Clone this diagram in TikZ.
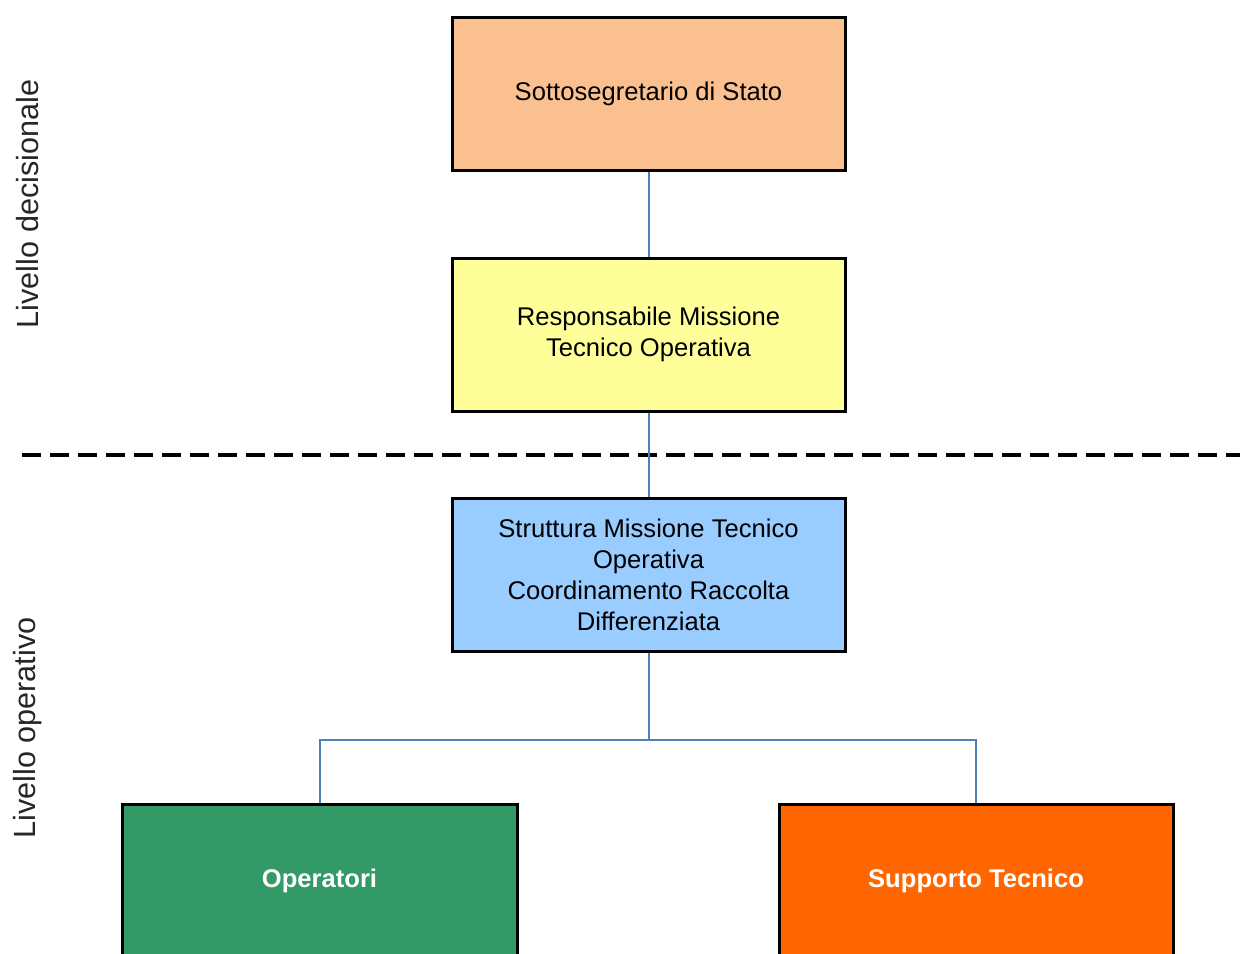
\documentclass[tikz,border=0pt]{standalone}
\usepackage{fontspec}
\setmainfont{Liberation Sans}
\usetikzlibrary{positioning,calc}

\definecolor{stato}{HTML}{FAC090}
\definecolor{missione}{HTML}{FFFF99}
\definecolor{struttura}{HTML}{99CCFF}
\definecolor{operatori}{HTML}{339966}
\definecolor{supporto}{HTML}{FF6600}
\definecolor{linea}{HTML}{4F81BD}

\begin{document}
\begin{tikzpicture}[x=0.5pt,y=-0.5pt,
  every node/.style={align=center,font=\fontsize{12.8}{15.5}\selectfont},
  box/.style={draw=black,line width=1.5pt,minimum width=196.5pt,minimum height=76.5pt,inner sep=2pt},
  link/.style={draw=linea,line width=1pt},
  level/.style={rotate=90,font=\fontsize{15.3}{18}\selectfont,text=black!85}]
\clip (0,0) rectangle (1242,953);
\node [box,fill=stato] (Sottosegretario) at (648.5,93.5) {Sottosegretario di Stato};
\node [box,fill=missione,below=42.5pt of Sottosegretario] (Responsabile) {Responsabile Missione\\Tecnico Operativa};
\node [box,fill=struttura,below=42pt of Responsabile] (Struttura) {Struttura Missione Tecnico\\Operativa\\Coordinamento Raccolta\\Differenziata};
\node [box,fill=operatori,minimum width=197.5pt,text=white,font=\fontsize{12.8}{15.5}\selectfont\bfseries] (Operatori) at (319.5,880.5) {Operatori};
\node [box,fill=supporto,minimum width=197pt,text=white,font=\fontsize{12.8}{15.5}\selectfont\bfseries] (Supporto) at (976,880.5) {Supporto Tecnico};
\node [level] (Decisionale) at (28,204) {Livello decisionale};
\node [level] (Operativo) at (28,728) {Livello operativo};
\coordinate (DashStart) at (22,455);
\coordinate (DashEnd) at (1240,455);
\draw [line width=2pt,dash pattern=on 9.5pt off 4.5pt] (DashStart) -- (DashEnd);
\draw [link] (Sottosegretario.south) -- (Responsabile.north);
\draw [link] (Responsabile.south) -- (Struttura.north);
\coordinate (Ramo) at ($(Struttura.south)+(0,87)$);
\draw [link] (Struttura.south) -- (Ramo) -| (Operatori.north);
\draw [link] (Ramo) -| (Supporto.north);
\end{tikzpicture}
\end{document}
